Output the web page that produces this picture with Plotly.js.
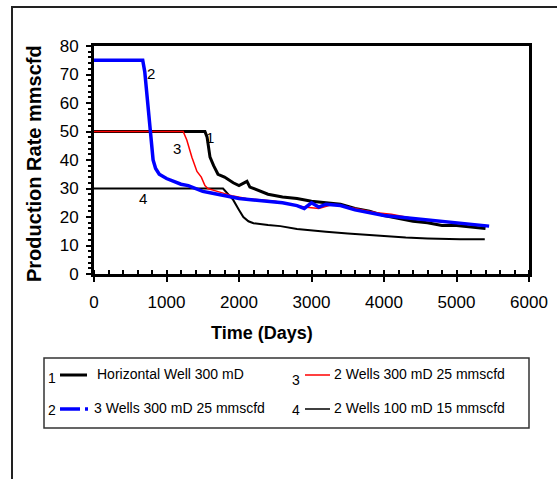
<!DOCTYPE html>
<html>
<head>
<meta charset="utf-8">
<script src="https://cdn.plot.ly/plotly-3.0.1.min.js"></script>
<style>html,body{margin:0;padding:0;background:#fff;}#chart{width:557px;height:479px;}</style>
</head>
<body>
<div id="chart"></div>
<script>
// Series 1: Horizontal Well 300 mD
const days1 = [0, 200, 400, 600, 800, 1000, 1200, 1400, 1530, 1560, 1600, 1650, 1710, 1800, 1920, 2000, 2110, 2150, 2250, 2400, 2600, 2800, 3000, 3200, 3400, 3600, 3800, 4000, 4200, 4400, 4600, 4800, 5000, 5200, 5400];
const rate1 = [50, 50, 50, 50, 50, 50, 50, 50, 50, 48, 41, 38, 35, 34, 32, 31, 32.5, 30.5, 29.5, 28, 27, 26.5, 25.5, 25, 24.5, 23, 22, 20.5, 19.5, 18.5, 18, 17, 17, 16.5, 16];
// Series 2: 3 Wells 300 mD 25 mmscfd
const days2 = [0, 200, 400, 600, 672, 700, 730, 760, 790, 815, 850, 900, 1000, 1100, 1200, 1300, 1400, 1500, 1600, 1700, 1800, 1900, 2000, 2200, 2400, 2600, 2800, 2900, 3000, 3100, 3200, 3400, 3600, 3800, 4000, 4200, 4400, 4600, 4800, 5000, 5200, 5450];
const rate2 = [75, 75, 75, 75, 75, 71, 63, 55, 48, 40, 37, 35, 33.5, 32.5, 31.5, 31, 30, 29, 28.5, 28, 27.5, 27, 26.5, 26, 25.5, 25, 24, 23, 25, 23.5, 24.5, 24, 22.5, 21.5, 20.5, 20, 19.5, 19, 18.5, 18, 17.5, 16.8];
// Series 3: 2 Wells 300 mD 25 mmscfd
const days3 = [0, 200, 400, 600, 800, 1000, 1230, 1280, 1350, 1420, 1480, 1530, 1570, 1700, 1900, 2100, 2300, 2500, 2700, 2900, 3100, 3300, 3500, 3700, 3900, 4100, 4300, 4500, 4700, 4900, 5100, 5400];
const rate3 = [50, 50, 50, 50, 50, 50, 50, 47, 41, 36, 34, 31, 30, 29, 27.5, 26.5, 26, 25.5, 24.5, 23.5, 23, 24.5, 23.5, 22.5, 21.5, 21, 20, 19, 18.5, 18, 17.5, 17];
// Series 4: 2 Wells 100 mD 15 mmscfd
const days4 = [0, 500, 1000, 1500, 1780, 1850, 1920, 2000, 2060, 2130, 2200, 2400, 2570, 2800, 3000, 3200, 3500, 3760, 4000, 4300, 4600, 4800, 5050, 5390];
const rate4 = [30, 30, 30, 30, 30, 28, 26, 22.5, 20, 18.5, 17.8, 17.2, 16.8, 15.8, 15.2, 14.8, 14.2, 13.7, 13.2, 12.8, 12.5, 12.3, 12.2, 12.2];

const seriesNames = ["Horizontal Well 300 mD", "3 Wells 300 mD 25 mmscfd", "2 Wells 300 mD 25 mmscfd", "2 Wells 100 mD 15 mmscfd"];
const curveLabels = ["1", "2", "3", "4"];
const labelX = [1600, 790, 1140, 680];
const labelY = [48, 70.5, 44, 26.5];
const xTicks = [0, 1000, 2000, 3000, 4000, 5000, 6000];
const yTicks = [0, 10, 20, 30, 40, 50, 60, 70, 80];

const FONT = "Liberation Sans, Arial, sans-serif";

const traces = [
  {x: days4, y: rate4, name: seriesNames[3], mode: "lines", line: {color: "#000", width: 2}},
  {x: days1, y: rate1, name: seriesNames[0], mode: "lines", line: {color: "#000", width: 3}},
  {x: days3, y: rate3, name: seriesNames[2], mode: "lines", line: {color: "#ff0000", width: 1.5}},
  {x: days2, y: rate2, name: seriesNames[1], mode: "lines", line: {color: "#0000ff", width: 3.5}}
];

function px2x(px){ return (px - 94) / 435; }
function py2y(py){ return (274 - py) / 228; }

const annotations = [];
for (let i = 0; i < 4; i++) {
  annotations.push({x: labelX[i], y: labelY[i], xref: "x", yref: "y", text: curveLabels[i], showarrow: false,
    xanchor: "center", yanchor: "middle", font: {family: FONT, size: 15, color: "#000"}});
}
annotations.push({x: px2x(262), y: py2y(333), xref: "paper", yref: "paper", text: "<b>Time (Days)</b>", showarrow: false,
  xanchor: "center", yanchor: "middle", font: {family: FONT, size: 18, color: "#000"}});
annotations.push({x: px2x(34), y: py2y(164), xref: "paper", yref: "paper", text: "<b>Production Rate mmscfd</b>", showarrow: false,
  xanchor: "center", yanchor: "middle", textangle: -90, font: {family: FONT, size: 20, color: "#000"}});

// legend entries (number, text positions in px)
const legRows = [
  {num: "1", nx: 58, ny: 378, tx: 95, ty: 374, text: seriesNames[0]},
  {num: "3", nx: 302, ny: 380, tx: 332, ty: 374, text: seriesNames[2]},
  {num: "2", nx: 58, ny: 410, tx: 92, ty: 408, text: seriesNames[1]},
  {num: "4", nx: 302, ny: 410, tx: 332, ty: 408, text: seriesNames[3]}
];
legRows.forEach(r => {
  annotations.push({x: px2x(r.nx), y: py2y(r.ny), xref: "paper", yref: "paper", text: r.num, showarrow: false,
    xanchor: "right", yanchor: "middle", font: {family: FONT, size: 14, color: "#000"}});
  annotations.push({x: px2x(r.tx), y: py2y(r.ty), xref: "paper", yref: "paper", text: r.text, showarrow: false,
    xanchor: "left", yanchor: "middle", font: {family: FONT, size: 14, color: "#000"}});
});

const shapes = [
  // outer frame
  {type: "path", xref: "paper", yref: "paper", path: "M " + px2x(12) + " " + py2y(520) + " L " + px2x(12) + " " + py2y(7) + " L " + px2x(600) + " " + py2y(7),
    line: {color: "#222", width: 2}},
  // legend box
  {type: "rect", xref: "paper", yref: "paper", x0: px2x(44), x1: px2x(529), y0: py2y(428), y1: py2y(358),
    line: {color: "#333", width: 1.5}, fillcolor: "rgba(0,0,0,0)"},
  // legend samples
  {type: "line", xref: "paper", yref: "paper", x0: px2x(60), x1: px2x(87), y0: py2y(375), y1: py2y(375), line: {color: "#000", width: 3}},
  {type: "line", xref: "paper", yref: "paper", x0: px2x(305), x1: px2x(330), y0: py2y(375), y1: py2y(375), line: {color: "#ff0000", width: 1.5}},
  {type: "line", xref: "paper", yref: "paper", x0: px2x(60), x1: px2x(80), y0: py2y(409), y1: py2y(409), line: {color: "#0000ff", width: 3.5}},
  {type: "line", xref: "paper", yref: "paper", x0: px2x(85), x1: px2x(88), y0: py2y(409), y1: py2y(409), line: {color: "#0000ff", width: 3.5}},
  {type: "line", xref: "paper", yref: "paper", x0: px2x(305), x1: px2x(330), y0: py2y(409), y1: py2y(409), line: {color: "#000", width: 1.5}}
];

const layout = {
  width: 557, height: 479,
  margin: {l: 94, r: 28, t: 46, b: 205},
  paper_bgcolor: "#fff", plot_bgcolor: "#fff",
  showlegend: false,
  font: {family: FONT, color: "#000"},
  xaxis: {
    range: [0, 6000], tickvals: xTicks, ticktext: xTicks.map(String),
    showgrid: false, zeroline: false,
    showline: true, linecolor: "#000", linewidth: 3, mirror: true,
    ticks: "outside", ticklen: 5, tickwidth: 2, tickcolor: "#000",
    minor: {dtick: 200, ticks: "inside", ticklen: 4, tickwidth: 2, tickcolor: "#000", showgrid: false},
    tickfont: {family: FONT, size: 17, color: "#000"},
    ticklabelstandoff: 6
  },
  yaxis: {
    range: [0, 80], tickvals: yTicks, ticktext: yTicks.map(String),
    showgrid: false, zeroline: false,
    showline: true, linecolor: "#000", linewidth: 3, mirror: true,
    ticks: "outside", ticklen: 5, tickwidth: 2, tickcolor: "#000",
    minor: {dtick: 2, ticks: "outside", ticklen: 3, tickwidth: 2, tickcolor: "#000", showgrid: false},
    tickfont: {family: FONT, size: 17, color: "#000"},
    ticklabelstandoff: 4
  },
  annotations: annotations,
  shapes: shapes
};

Plotly.newPlot("chart", traces, layout, {displayModeBar: false, staticPlot: true});
</script>
</body>
</html>
